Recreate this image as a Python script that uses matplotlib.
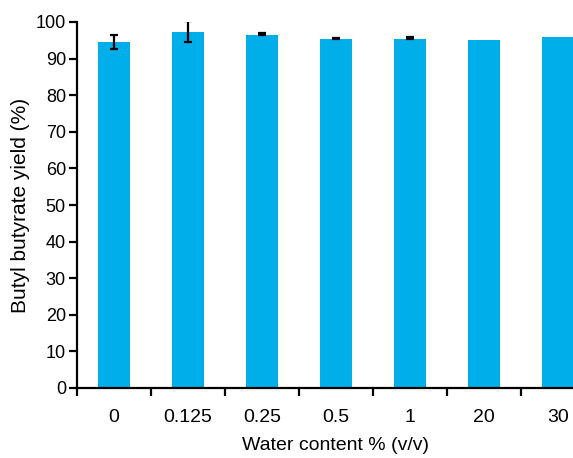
import matplotlib
matplotlib.use("Agg")
import matplotlib.pyplot as plt
import numpy as np

categories = ["0", "0.125", "0.25", "0.5", "1", "20", "30"]
yields = [94.5, 97.3, 96.5, 95.4, 95.4, 95.1, 95.9]
err_low = [1.9, 2.9, 0.0, 0.0, 0.0, 0.0, 0.0]
err_high = [1.9, 2.9, 0.6, 0.2, 0.5, 0.0, 0.0]
yticks = list(range(0, 101, 10))

plt.rcParams['font.family'] = ['Liberation Sans', 'DejaVu Sans']
fig = plt.figure(figsize=(5.73, 4.58), dpi=100)
W, H = 573, 458
ax = fig.add_axes([77 / W, (H - 388) / H, 518 / W, 366 / H])

x = np.arange(len(categories))
ax.bar(x, yields, width=0.42, color="#00AEEA", zorder=2)

# error bars only where an error exists
idx = [i for i in range(len(categories)) if err_low[i] > 0 or err_high[i] > 0]
ax.errorbar([x[i] for i in idx], [yields[i] for i in idx],
            yerr=[[err_low[i] for i in idx], [err_high[i] for i in idx]],
            fmt="none", ecolor="black", elinewidth=1.6, capsize=2.8,
            capthick=1.6, zorder=3)

ax.set_xlim(-0.5, len(categories) - 0.5)
ax.set_ylim(0, 100)
ax.set_yticks(yticks)
ax.set_yticklabels([str(t) for t in yticks], fontsize=13)

ax.set_xticks(np.arange(-0.5, len(categories), 1.0))
ax.set_xticklabels([])
ax.set_xticks(x, minor=True)
ax.set_xticklabels(categories, minor=True, fontsize=14)
ax.tick_params(axis="x", which="major", direction="out", length=6, width=1.6)
ax.tick_params(axis="x", which="minor", length=0, pad=15)
ax.tick_params(axis="y", direction="out", length=6, width=1.6, pad=2)

for s in ["top", "right"]:
    ax.spines[s].set_visible(False)
for s in ["left", "bottom"]:
    ax.spines[s].set_linewidth(1.6)

ax.set_xlabel("Water content % (v/v)", fontsize=14, labelpad=8)
ax.set_ylabel("Butyl butyrate yield (%)", fontsize=15, labelpad=4)

fig.savefig("out.png", dpi=100)
